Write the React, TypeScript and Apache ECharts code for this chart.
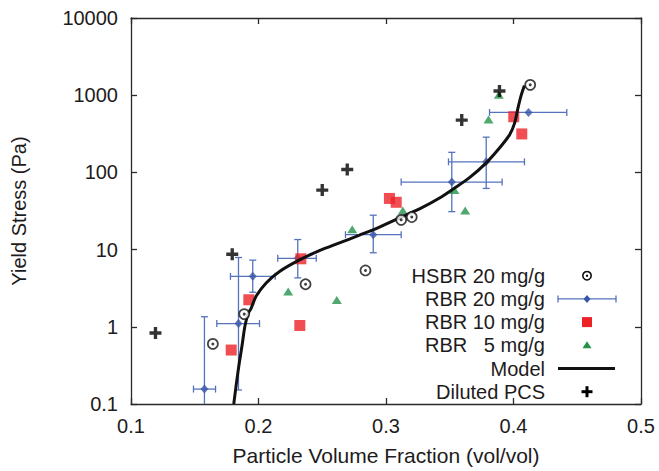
import React, { useEffect, useRef } from "react";
import * as echarts from "echarts";

// ---- Data ----
const X_TICKS = [0.1, 0.2, 0.3, 0.4, 0.5];
const Y_TICKS = [0.1, 1, 10, 100, 1000, 10000];

const HSBR_X = [0.1642, 0.1888, 0.2369, 0.2839, 0.3119, 0.3202, 0.4131];
const HSBR_Y = [0.6, 1.46, 3.56, 5.37, 24.3, 26.4, 1362];

const RBR20_X = [0.1576, 0.1843, 0.1955, 0.2308, 0.29, 0.3516, 0.3786, 0.4118];
const RBR20_Y = [0.156, 1.1, 4.5, 7.7, 15.6, 75, 137, 598];
const RBR20_XLO = [0.149, 0.1673, 0.178, 0.2151, 0.2682, 0.3119, 0.349, 0.3812];
const RBR20_XHI = [0.1663, 0.2008, 0.2131, 0.2453, 0.3119, 0.3911, 0.4086, 0.4418];
const RBR20_YLO = [0.1, 0.152, 2.8, 4.3, 9.1, 31, 62, 598];
const RBR20_YHI = [1.35, 7.9, 7.3, 13.5, 27.9, 182, 286, 598];

const RBR10_X = [0.1786, 0.1924, 0.2324, 0.2332, 0.3027, 0.308, 0.4002, 0.4065];
const RBR10_Y = [0.5, 2.24, 1.04, 7.6, 46, 41, 526, 315];

const RBR5_X = [0.2233, 0.2614, 0.2735, 0.3132, 0.3537, 0.3621, 0.3804, 0.3885];
const RBR5_Y = [2.87, 2.22, 18.3, 32, 59, 32, 486, 1014];

const MODEL_X = [
  0.1806, 0.1839, 0.1871, 0.1894, 0.1918, 0.1943, 0.1982, 0.206, 0.2165, 0.2322,
  0.2478, 0.2635, 0.2792, 0.2949, 0.3106, 0.3263, 0.342, 0.3524, 0.3655, 0.3786,
  0.389, 0.3969, 0.4008, 0.4034, 0.406, 0.4086,
];
const MODEL_Y = [
  0.1, 0.261, 0.573, 1.03, 1.47, 1.75, 2.5, 3.7, 5.21, 7.36,
  9.68, 12.2, 15.4, 19.6, 25.8, 33.6, 46.5, 60.6, 85.5, 133,
  207, 306, 432, 671, 994, 1334,
];

const PCS_X = [0.1192, 0.1794, 0.25, 0.2696, 0.3594, 0.389];
const PCS_Y = [0.83, 8.7, 59, 109, 476, 1132];

const LEGEND_LABELS = [
  "HSBR 20 mg/g",
  "RBR 20 mg/g",
  "RBR 10 mg/g",
  "RBR   5 mg/g",
  "Model",
  "Diluted PCS",
];

// ---- Styles ----
const FONT = "'Liberation Sans', Arial, Helvetica, sans-serif";
const TEXT_COLOR = "#1e1b1c";
const AXIS_COLOR = "#2a2a2a";
const BLUE = "#3a56a6";
const ERR_BLUE = "#5572bd";
const RED = "#ec2227";
const GREEN = "#23934a";
const PLUS_PATH = "path://M0,3.6 H10 V6.4 H0 Z M3.6,0 H6.4 V10 H3.6 Z";

const X_MIN = X_TICKS[0];
const X_MAX = X_TICKS[X_TICKS.length - 1];
const Y_MIN = Y_TICKS[0];
const Y_MAX = Y_TICKS[Y_TICKS.length - 1];

function zip(xs: number[], ys: number[]) {
  return xs.map((x, i) => [x, ys[i]]);
}

function errRender(params: any, api: any) {
  const x = api.value(0);
  const y = api.value(1);
  const xlo = api.value(2);
  const xhi = api.value(3);
  const ylo = api.value(4);
  const yhi = api.value(5);
  const c = api.coord([x, y]);
  const style = { stroke: ERR_BLUE, lineWidth: 1.3, fill: "none" };
  const cap = 3.5;
  const children: any[] = [];
  if (xhi > xlo) {
    const a = api.coord([xlo, y]);
    const b = api.coord([xhi, y]);
    children.push({ type: "line", shape: { x1: a[0], y1: c[1], x2: b[0], y2: c[1] }, style });
    children.push({ type: "line", shape: { x1: a[0], y1: c[1] - cap, x2: a[0], y2: c[1] + cap }, style });
    children.push({ type: "line", shape: { x1: b[0], y1: c[1] - cap, x2: b[0], y2: c[1] + cap }, style });
  }
  if (yhi > ylo) {
    const lo = api.coord([x, Math.max(ylo, Y_MIN)]);
    const hi = api.coord([x, yhi]);
    children.push({ type: "line", shape: { x1: c[0], y1: lo[1], x2: c[0], y2: hi[1] }, style });
    children.push({ type: "line", shape: { x1: c[0] - cap, y1: hi[1], x2: c[0] + cap, y2: hi[1] }, style });
    if (ylo > Y_MIN) {
      children.push({ type: "line", shape: { x1: c[0] - cap, y1: lo[1], x2: c[0] + cap, y2: lo[1] }, style });
    }
  }
  return { type: "group", children };
}

function buildLegend() {
  const textX = 545;
  const symX = 587;
  const y0 = 275.7;
  const dy = 23.2;
  const els: any[] = [];
  LEGEND_LABELS.forEach((label, i) => {
    els.push({
      type: "text",
      x: textX,
      y: y0 + i * dy,
      style: {
        text: label,
        font: `20px ${FONT}`,
        fill: TEXT_COLOR,
        align: "right",
        verticalAlign: "middle",
      },
    });
  });
  // HSBR ring + dot
  els.push({ type: "circle", shape: { cx: symX, cy: y0, r: 4.2 }, style: { fill: "#fff", stroke: "#111", lineWidth: 1.6 } });
  els.push({ type: "circle", shape: { cx: symX, cy: y0, r: 1.2 }, style: { fill: "#111" } });
  // RBR 20 error bar + diamond
  const y1 = y0 + dy;
  const es = { stroke: ERR_BLUE, lineWidth: 1.3 };
  els.push({ type: "line", shape: { x1: 558, y1, x2: 616, y2: y1 }, style: es });
  els.push({ type: "line", shape: { x1: 558, y1: y1 - 3.5, x2: 558, y2: y1 + 3.5 }, style: es });
  els.push({ type: "line", shape: { x1: 616, y1: y1 - 3.5, x2: 616, y2: y1 + 3.5 }, style: es });
  els.push({ type: "polygon", shape: { points: [[symX, y1 - 4], [symX + 3.5, y1], [symX, y1 + 4], [symX - 3.5, y1]] }, style: { fill: BLUE } });
  // RBR 10 square
  const y2 = y0 + 2 * dy;
  els.push({ type: "rect", shape: { x: symX - 5, y: y2 - 5, width: 10, height: 10 }, style: { fill: RED } });
  // RBR 5 triangle
  const y3 = y0 + 3 * dy;
  els.push({ type: "polygon", shape: { points: [[symX, y3 - 4], [symX + 4.5, y3 + 3], [symX - 4.5, y3 + 3]] }, style: { fill: GREEN } });
  // Model line
  const y4 = y0 + 4 * dy;
  els.push({ type: "line", shape: { x1: 558, y1: y4, x2: 615, y2: y4 }, style: { stroke: "#111", lineWidth: 3 } });
  // Diluted PCS plus
  const y5 = y0 + 5 * dy;
  els.push({ type: "rect", shape: { x: symX - 5.5, y: y5 - 1.5, width: 11, height: 3 }, style: { fill: "#000" } });
  els.push({ type: "rect", shape: { x: symX - 1.5, y: y5 - 5.5, width: 3, height: 11 }, style: { fill: "#000" } });
  return els;
}

export default function App() {
  const ref = useRef<HTMLDivElement>(null);

  useEffect(() => {
    if (!ref.current) return;
    const chart = echarts.init(ref.current, undefined, { renderer: "svg" });

    const axisLine = { show: true, lineStyle: { color: AXIS_COLOR, width: 1.3 } };
    const axisTick = { show: true, inside: true, length: 6, lineStyle: { color: AXIS_COLOR, width: 1.3 } };
    const labelStyle = { color: TEXT_COLOR, fontSize: 20, fontFamily: FONT };

    const option: any = {
      animation: false,
      backgroundColor: "#fff",
      grid: { left: 131, right: 18, top: 18, bottom: 62, containLabel: false },
      xAxis: [
        {
          type: "value",
          min: X_MIN,
          max: X_MAX,
          interval: 0.1,
          position: "bottom",
          name: "Particle Volume Fraction (vol/vol)",
          nameLocation: "middle",
          nameGap: 41,
          nameTextStyle: { color: TEXT_COLOR, fontSize: 21, fontFamily: FONT },
          axisLine,
          axisTick,
          splitLine: { show: false },
          axisLabel: { ...labelStyle, margin: 12, formatter: (v: number) => v.toFixed(1) },
        },
        {
          type: "value",
          min: X_MIN,
          max: X_MAX,
          interval: 0.1,
          position: "top",
          axisLine,
          axisTick,
          splitLine: { show: false },
          axisLabel: { show: false },
        },
      ],
      yAxis: [
        {
          type: "log",
          logBase: 10,
          min: Y_MIN,
          max: Y_MAX,
          position: "left",
          name: "Yield Stress (Pa)",
          nameLocation: "middle",
          nameGap: 102,
          nameRotate: 90,
          nameTextStyle: { color: TEXT_COLOR, fontSize: 20, fontFamily: FONT },
          axisLine,
          axisTick,
          splitLine: { show: false },
          minorTick: { show: false },
          axisLabel: {
            ...labelStyle,
            margin: 13,
            formatter: (v: number) => {
              const n = Number(v);
              return n < 1 ? n.toFixed(1) : String(Math.round(n));
            },
          },
        },
        {
          type: "log",
          logBase: 10,
          min: Y_MIN,
          max: Y_MAX,
          position: "right",
          axisLine,
          axisTick,
          splitLine: { show: false },
          axisLabel: { show: false },
        },
      ],
      graphic: buildLegend(),
      series: [
        {
          name: "RBR 20 mg/g errors",
          type: "custom",
          xAxisIndex: 0,
          yAxisIndex: 0,
          renderItem: errRender,
          encode: { x: 0, y: 1 },
          data: RBR20_X.map((x, i) => [x, RBR20_Y[i], RBR20_XLO[i], RBR20_XHI[i], RBR20_YLO[i], RBR20_YHI[i]]),
          z: 2,
          silent: true,
        },
        {
          name: "RBR 20 mg/g",
          type: "scatter",
          symbol: "diamond",
          symbolSize: [8, 9],
          itemStyle: { color: BLUE },
          data: zip(RBR20_X, RBR20_Y),
          z: 3,
        },
        {
          name: "RBR 10 mg/g",
          type: "scatter",
          symbol: "rect",
          symbolSize: 11,
          itemStyle: { color: RED },
          data: zip(RBR10_X, RBR10_Y),
          z: 3,
        },
        {
          name: "RBR 5 mg/g",
          type: "scatter",
          symbol: "triangle",
          symbolSize: [10, 8],
          itemStyle: { color: GREEN },
          data: zip(RBR5_X, RBR5_Y),
          z: 3,
        },
        {
          name: "Diluted PCS",
          type: "scatter",
          symbol: PLUS_PATH,
          symbolSize: 12,
          itemStyle: { color: "#000" },
          data: zip(PCS_X, PCS_Y),
          z: 4,
        },
        {
          name: "Model",
          type: "line",
          showSymbol: false,
          smooth: 0.3,
          lineStyle: { color: "#111", width: 3 },
          data: zip(MODEL_X, MODEL_Y),
          z: 5,
        },
        {
          name: "HSBR 20 mg/g",
          type: "scatter",
          symbol: "circle",
          symbolSize: 10,
          itemStyle: { color: "#fff", borderColor: "#111", borderWidth: 1.7 },
          data: zip(HSBR_X, HSBR_Y),
          z: 6,
        },
        {
          name: "HSBR 20 mg/g dot",
          type: "scatter",
          symbol: "circle",
          symbolSize: 3,
          itemStyle: { color: "#111" },
          data: zip(HSBR_X, HSBR_Y),
          z: 7,
          silent: true,
        },
      ],
    };

    chart.setOption(option);
    return () => chart.dispose();
  }, []);

  return (
    <div
      ref={ref}
      style={{ position: "fixed", left: 0, top: 0, width: 659, height: 471, background: "#fff" }}
    />
  );
}
